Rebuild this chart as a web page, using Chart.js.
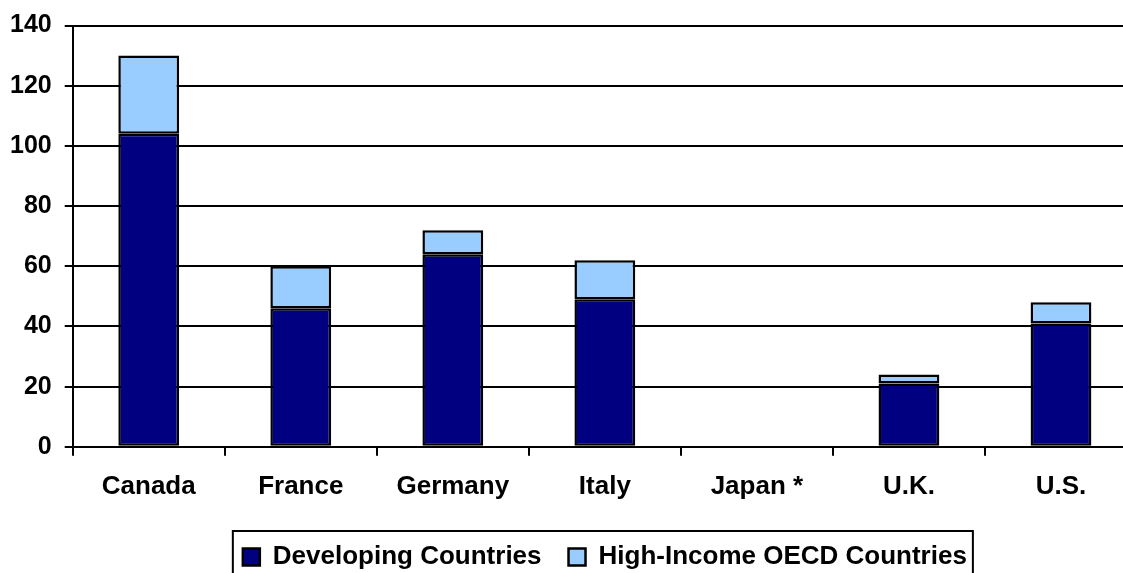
<!DOCTYPE html>
<html>
<head>
<meta charset="utf-8">
<script src="https://cdn.jsdelivr.net/npm/chart.js@4"></script>
<style>
  html, body { margin: 0; padding: 0; background: #fff; overflow: hidden; }
  #wrap { width: 1204px; height: 573px; }
</style>
</head>
<body>
<div id="wrap"><canvas id="g7Chart"></canvas></div>
<script>
const countries = ['Canada', 'France', 'Germany', 'Italy', 'Japan *', 'U.K.', 'U.S.'];
const developing = [104, 46, 64, 49, 0, 21, 41];
const highIncome = [26, 14, 8, 13, 0, 3, 7];

// box around the legend items, like the spreadsheet original
const legendFrame = {
    id: 'legendFrame',
    afterDraw(chart) {
        const boxes = chart.legend?.legendHitBoxes;
        if (!boxes || !boxes.length) return;
        const left = Math.min(...boxes.map(b => b.left)) - 10;
        const right = Math.max(...boxes.map(b => b.left + b.width)) + 6;
        const top = Math.min(...boxes.map(b => b.top)) - 13;
        const ctx = chart.ctx;
        ctx.save();
        ctx.strokeStyle = '#000';
        ctx.lineWidth = 2;
        ctx.strokeRect(left, top, right - left, 80);
        ctx.restore();
    }
};

const font = { family: '"Liberation Sans", Arial, sans-serif', size: 26, weight: 'bold' };
const yFont = { family: '"Liberation Sans", Arial, sans-serif', size: 25, weight: 'bold', lineHeight: 1 };

new Chart(document.getElementById('g7Chart').getContext('2d'), {
    type: 'bar',
    data: {
        labels: countries,
        datasets: [
            { label: 'Developing Countries', data: developing, backgroundColor: '#000080', borderColor: '#000', borderWidth: 2.5, borderSkipped: false, barPercentage: 0.4, categoryPercentage: 1 },
            { label: 'High-Income OECD Countries', data: highIncome, backgroundColor: '#99ccff', borderColor: '#000', borderWidth: 2.5, borderSkipped: false, barPercentage: 0.4, categoryPercentage: 1 }
        ]
    },
    options: {
        responsive: true,
        maintainAspectRatio: false,
        animation: false,
        layout: { padding: { top: 19, right: 67, left: -3, bottom: -7 } },
        plugins: {
            legend: {
                position: 'bottom',
                fullSize: false,
                labels: { font: font, color: '#000', boxWidth: 17, boxHeight: 17, padding: 27 }
            },
            tooltip: { enabled: false }
        },
        scales: {
            x: {
                stacked: true,
                grid: { offset: true, drawOnChartArea: false, drawTicks: true, tickLength: 9, color: '#000', lineWidth: 2 },
                border: { color: '#000', width: 2 },
                ticks: { font: font, color: '#000', padding: 15, maxRotation: 0 }
            },
            y: {
                stacked: true,
                min: 0,
                max: 140,
                ticks: { stepSize: 20, font: yFont, color: '#000', padding: 13 },
                grid: { color: '#000', lineWidth: 2, tickLength: 8 },
                border: { color: '#000', width: 2 }
            }
        }
    },
    plugins: [legendFrame]
});
</script>
</body>
</html>
